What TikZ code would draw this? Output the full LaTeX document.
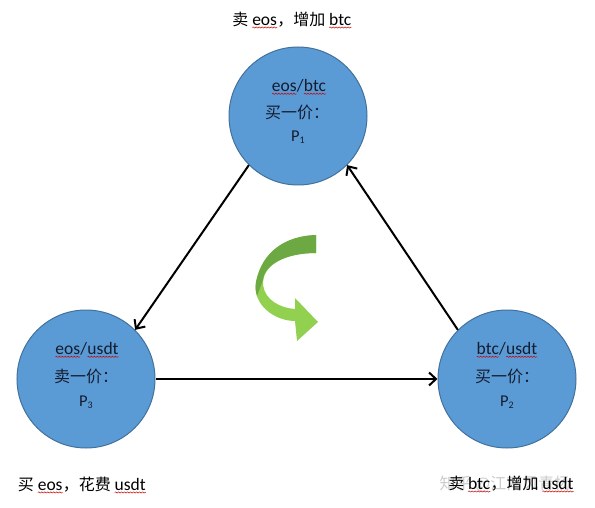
\documentclass[tikz,border=0pt]{standalone}
\usepackage{fontspec}
\setmainfont{Carlito}
\newfontfamily\cjk{Noto Sans CJK SC}
\usetikzlibrary{arrows.meta,decorations.pathmorphing}
\definecolor{cfill}{HTML}{5B9BD5}
\definecolor{cline}{HTML}{41719C}
\definecolor{gl}{HTML}{92D050}
\definecolor{gd}{HTML}{6CA943}
\definecolor{txt}{HTML}{141C30}
\newcommand\wv[1]{\tikz[baseline=(wv.base)]{\node[inner sep=0pt,outer sep=0pt](wv){#1};\draw[red!80!black,line width=0.5pt,decorate,decoration={snake,segment length=3pt,amplitude=0.6pt}]([yshift=-2.2pt]wv.south west)--([yshift=-2.2pt]wv.south east);}}
\newcommand\sub[1]{\raisebox{-1.5pt}{\fontsize{10}{10}\selectfont #1}}
\newcommand\lat[1]{{\fontsize{17.5}{18}\selectfont #1}}
\begin{document}
\begin{tikzpicture}[x=1pt,y=-1pt]
\tikzset{
  coin/.style={circle,fill=cfill,draw=cline,line width=1pt,minimum size=138pt,inner sep=0pt},
  ctext/.style={text=txt,inner sep=0pt,font=\fontsize{16}{18}\selectfont},
  ptext/.style={text=txt,inner sep=0pt,font=\fontsize{16.5}{18}\selectfont},
  lbl/.style={text=black,inner sep=0pt,font=\fontsize{16}{18}\selectfont},
  wmark/.style={text=gray!40,inner sep=0pt,font=\fontsize{16}{18}\selectfont},
  conn/.style={draw=black,line width=2pt,-{Straight Barb[length=7pt,width=13pt,line width=2pt]}}
}
\fill[white] (0,0) rectangle (595,508);
\useasboundingbox (0,0) rectangle (595,508);

% circles
\node[coin] (t) at (298,116) {};
\node[coin] (l) at (86,379) {};
\node[coin] (r) at (507,379) {};

% circle texts
\node[ctext] (t1) at (299,87) {\lat{\wv{eos}/\wv{btc}}};
\node[ctext] (t2) at (297,112) {\cjk 买一价：};
\node[ptext] (t3) at (298,137) {P\sub{1}};

\node[ctext] (l1) at (87,350) {\lat{\wv{eos}/\wv{usdt}}};
\node[ctext] (l2) at (86,376) {\cjk 卖一价：};
\node[ptext] (l3) at (86,402) {P\sub{3}};

\node[ctext] (r1) at (507,350) {\lat{\wv{btc}/\wv{usdt}}};
\node[ctext] (r2) at (507,376) {\cjk 买一价：};
\node[ptext] (r3) at (507,402) {P\sub{2}};

% connectors
\draw[conn] (t.225) -- (l.45);
\draw[conn] (l.east) -- (r.west);
\draw[conn] (r.135) -- (t.-45);

% labels
\node[lbl] (la) at (292,20) {{\cjk 卖} \lat{\wv{eos}}{\cjk ，增加} \lat{\wv{btc}}};
\node[lbl] (lb) at (82,485) {{\cjk 买} \lat{\wv{eos}}{\cjk ，花费} \lat{\wv{usdt}}};
\node[wmark] (wm) at (505,484) {\cjk 知乎 @江南风青杨};
\node[lbl] (lc) at (511,484) {{\cjk 卖} \lat{\wv{btc}}{\cjk ，增加} \lat{\wv{usdt}}};

% green curved arrow
\fill[gl] (316,235) .. controls (285,236) and (262,252) .. (256,282)
  .. controls (252,305) and (275,321) .. (295,321) -- (297,341) -- (318,322) -- (295,298) -- (295,309)
  .. controls (280,308) and (265,300) .. (263,285)
  .. controls (262,265) and (285,253) .. (316,253) -- cycle;
\fill[gd] (316,235) .. controls (285,236) and (262,252) .. (256,282)
  .. controls (255,288) and (256,292) .. (257,296) -- (263,280)
  .. controls (264,265) and (285,253) .. (316,253) -- cycle;
\end{tikzpicture}
\end{document}
